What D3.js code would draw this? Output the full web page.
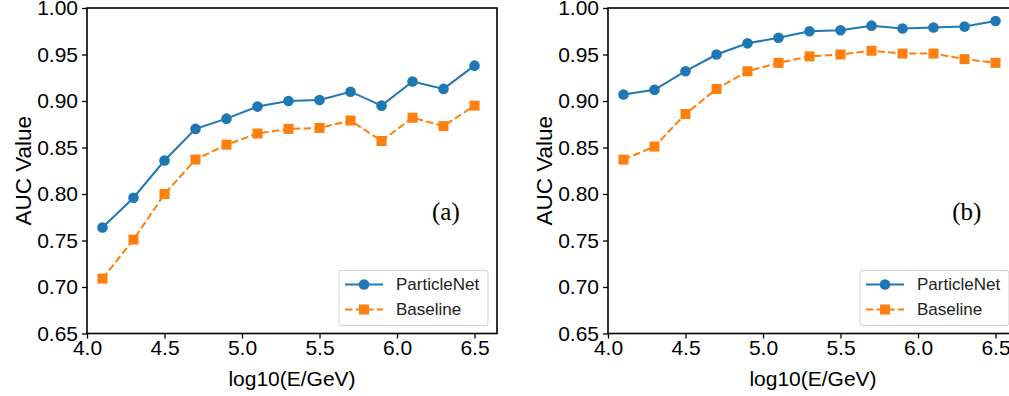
<!DOCTYPE html>
<html>
<head>
<meta charset="utf-8">
<script src="https://cdn.jsdelivr.net/npm/d3@7"></script>
<style>
  body { margin: 0; background: #fff; }
  svg { display: block; }
  .axis text { font-family: "Liberation Sans", Arial, Helvetica, sans-serif; font-size: 21px; fill: #000; }
  .axis path, .axis line { stroke: #000; }
  .label { font-family: "Liberation Sans", Arial, Helvetica, sans-serif; font-size: 21px; fill: #000; }
  .ylabel { font-size: 22.5px; }
  .legend text { font-family: "Liberation Sans", Arial, Helvetica, sans-serif; font-size: 17px; fill: #222; }
  .tag { font-family: "Liberation Serif", "Times New Roman", serif; font-size: 25px; fill: #000; }
</style>
</head>
<body>
<div id="chart"></div>
<script>
const energies = [4.1, 4.3, 4.5, 4.7, 4.9, 5.1, 5.3, 5.5, 5.7, 5.9, 6.1, 6.3, 6.5];
const particleNetA = [0.764, 0.796, 0.836, 0.870, 0.881, 0.894, 0.900, 0.901, 0.910, 0.895, 0.921, 0.913, 0.938];
const baselineA = [0.709, 0.751, 0.800, 0.837, 0.853, 0.865, 0.870, 0.871, 0.879, 0.857, 0.882, 0.873, 0.895];
const particleNetB = [0.907, 0.912, 0.932, 0.950, 0.962, 0.968, 0.975, 0.976, 0.981, 0.978, 0.979, 0.980, 0.986];
const baselineB = [0.837, 0.851, 0.886, 0.913, 0.932, 0.941, 0.948, 0.950, 0.954, 0.951, 0.951, 0.945, 0.941];
const xTicks = [4.0, 4.5, 5.0, 5.5, 6.0, 6.5];
const yTicks = [0.65, 0.70, 0.75, 0.80, 0.85, 0.90, 0.95, 1.00];
const seriesNames = ["ParticleNet", "Baseline"];
const panelTags = ["(a)", "(b)"];

const width = 1009, height = 396;
const svg = d3.select("#chart").append("svg")
  .attr("width", width)
  .attr("height", height);

const colors = { ParticleNet: "#1f77b4", Baseline: "#ff7f0e" };

const panels = [
  { left: 87, pn: particleNetA, bl: baselineA, tag: panelTags[0] },
  { left: 608, pn: particleNetB, bl: baselineB, tag: panelTags[1] },
];

panels.forEach(p => {
  const plotW = 410;
  const top = 8, bottom = 333.5;
  const x = d3.scaleLinear().domain([4.0, 6.645]).range([p.left, p.left + plotW]);
  const y = d3.scaleLinear().domain([0.65, 1.0]).range([bottom, top]);

  const g = svg.append("g");

  // frame
  g.append("rect")
    .attr("x", p.left).attr("y", top)
    .attr("width", plotW).attr("height", bottom - top)
    .attr("fill", "none").attr("stroke", "#000").attr("stroke-width", 1.6);

  g.append("g")
    .attr("class", "axis")
    .attr("transform", `translate(0,${bottom})`)
    .call(d3.axisBottom(x).tickValues(xTicks).tickFormat(d3.format(".1f")).tickSize(5).tickPadding(2))
    .call(a => a.select(".domain").remove())
    .call(a => a.selectAll("line").attr("stroke-width", 1.3));

  g.append("g")
    .attr("class", "axis")
    .attr("transform", `translate(${p.left},0)`)
    .call(d3.axisLeft(y).tickValues(yTicks).tickFormat(d3.format(".2f")).tickSize(5).tickPadding(4))
    .call(a => a.select(".domain").remove())
    .call(a => a.selectAll("line").attr("stroke-width", 1.3));

  g.append("text")
    .attr("class", "label")
    .attr("x", (x.range()[0] + x.range()[1]) / 2)
    .attr("y", 386)
    .attr("text-anchor", "middle")
    .text("log10(E/GeV)");

  g.append("text")
    .attr("class", "label ylabel")
    .attr("transform", `translate(${p.left - 56},${(top + bottom) / 2}) rotate(-90)`)
    .attr("text-anchor", "middle")
    .text("AUC Value");

  const line = d3.line().x(d => x(d[0])).y(d => y(d[1]));

  const pnData = energies.map((e, i) => [e, p.pn[i]]);
  const blData = energies.map((e, i) => [e, p.bl[i]]);

  g.append("path")
    .attr("d", line(pnData))
    .attr("fill", "none")
    .attr("stroke", colors.ParticleNet)
    .attr("stroke-width", 2);
  g.selectAll(".pn").data(pnData).enter().append("circle")
    .attr("cx", d => x(d[0])).attr("cy", d => y(d[1]))
    .attr("r", 5.3).attr("fill", colors.ParticleNet);

  g.append("path")
    .attr("d", line(blData))
    .attr("fill", "none")
    .attr("stroke", colors.Baseline)
    .attr("stroke-width", 2)
    .attr("stroke-dasharray", "7.4,3.2");
  g.selectAll(".bl").data(blData).enter().append("rect")
    .attr("x", d => x(d[0]) - 5).attr("y", d => y(d[1]) - 5)
    .attr("width", 10).attr("height", 10)
    .attr("fill", colors.Baseline);

  g.append("text")
    .attr("class", "tag")
    .attr("x", x(6.315)).attr("y", y(0.772))
    .attr("text-anchor", "middle")
    .text(p.tag);

  // legend
  const lw = 149, lh = 55;
  const lx = p.left + plotW - 9 - lw, ly = bottom - 8 - lh;
  const leg = g.append("g").attr("class", "legend").attr("transform", `translate(${lx},${ly})`);
  leg.append("rect")
    .attr("width", lw).attr("height", lh)
    .attr("rx", 3)
    .attr("fill", "#fff").attr("fill-opacity", 0.8)
    .attr("stroke", "#d0d0d0").attr("stroke-width", 1);
  seriesNames.forEach((name, i) => {
    const cy = 14 + i * 25;
    leg.append("line")
      .attr("x1", 6).attr("x2", 44).attr("y1", cy).attr("y2", cy)
      .attr("stroke", colors[name]).attr("stroke-width", 2)
      .attr("stroke-dasharray", name === "Baseline" ? "7.4,3.2" : null);
    if (name === "ParticleNet") {
      leg.append("circle").attr("cx", 25).attr("cy", cy).attr("r", 5.3).attr("fill", colors[name]);
    } else {
      leg.append("rect").attr("x", 20).attr("y", cy - 5).attr("width", 10).attr("height", 10).attr("fill", colors[name]);
    }
    leg.append("text")
      .attr("x", 57).attr("y", cy)
      .attr("dy", "0.35em")
      .text(name);
  });
});
</script>
</body>
</html>
